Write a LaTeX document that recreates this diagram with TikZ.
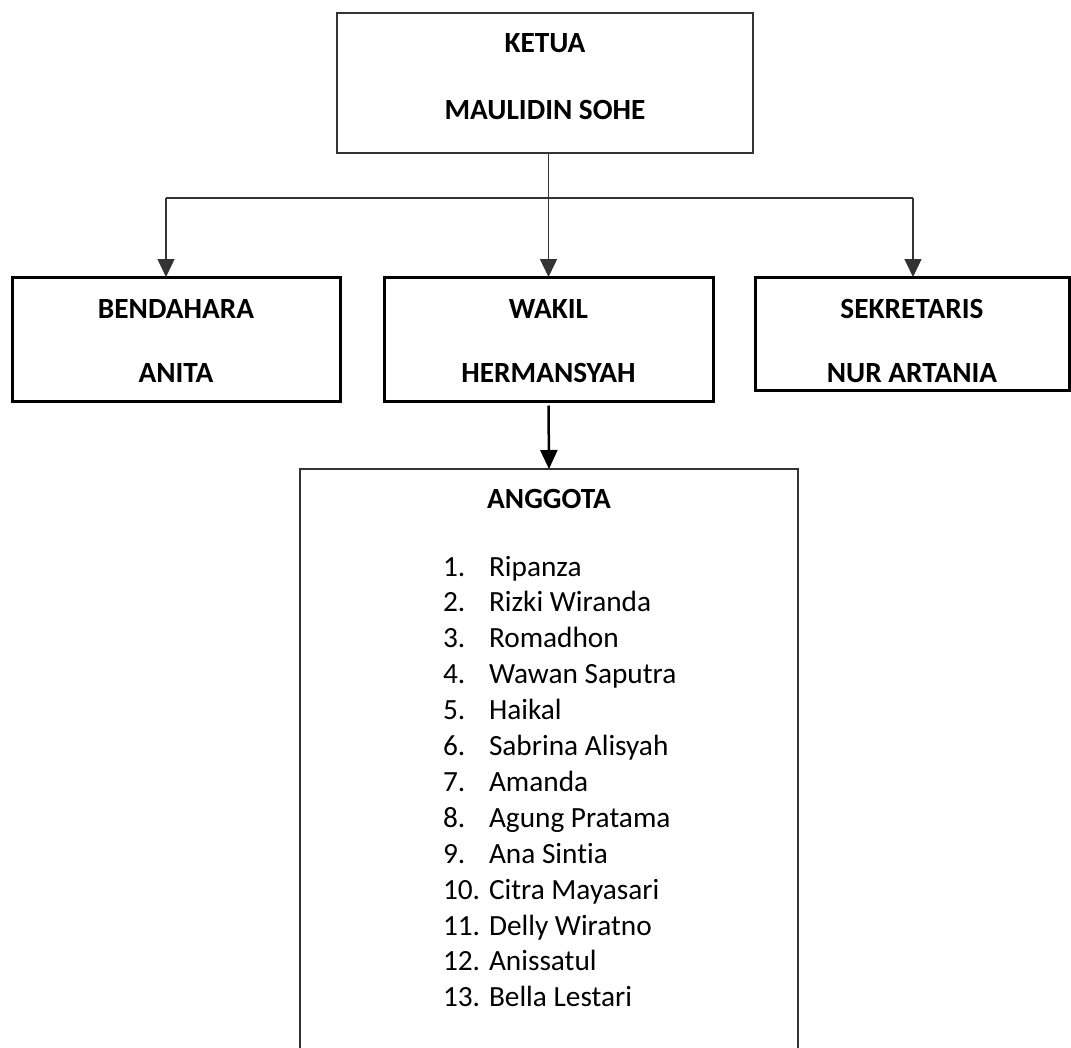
\documentclass[tikz,border=0pt]{standalone}
\usepackage{fontspec}
\setmainfont{Carlito}[Ligatures=NoCommon]
\usetikzlibrary{arrows.meta}
\begin{document}
\begin{tikzpicture}[x=1pt,y=-1pt,
  every node/.style={inner sep=0pt,outer sep=0pt},
  topbox/.style={draw=black!80,line width=2pt,align=center,
    font=\fontsize{29.3}{67}\selectfont\bfseries},
  rolebox/.style={draw=black,line width=3pt,align=center,
    font=\fontsize{29.3}{64}\selectfont\bfseries},
  memberbox/.style={draw=black!80,line width=2pt},
  heading/.style={font=\fontsize{29.3}{35}\selectfont\bfseries,anchor=base},
  item/.style={font=\fontsize{29.3}{35}\selectfont,anchor=base west},
  conn/.style={draw=black!80,line width=1.5pt},
  arr/.style={conn,-{Triangle[width=17pt,length=18pt]}},
  arrthick/.style={draw=black,line width=2.5pt,-{Triangle[width=17pt,length=19pt]}}
]
\useasboundingbox (0,0) rectangle (1071,1047);
\clip (0,0) rectangle (1071,1047);

% chairman
\node[topbox,minimum width=416pt,minimum height=140pt] (ketua) at (545,83)
  {KETUA\\MAULIDIN SOHE\rule[-14pt]{0pt}{14pt}};

% second level
\node[rolebox,minimum width=328pt,minimum height=124pt] (bend) at (176,339)
  {\rule{0pt}{22.5pt}BENDAHARA\\ANITA};
\node[rolebox,minimum width=329pt,minimum height=124pt] (wakil) at (548.5,339)
  {\rule{0pt}{22.5pt}WAKIL\\HERMANSYAH};
\node[rolebox,minimum width=314pt,minimum height=113pt] (sek) at (912,333.5)
  {\rule{0pt}{33.5pt}SEKRETARIS\\NUR ARTANIA};

% members (box runs past the bottom edge)
\node[memberbox,minimum width=498pt,minimum height=631pt] (anggota) at (549,784.5) {};
\node[heading] (anggotaT) at (549,508) {ANGGOTA};
\foreach \n/\name [count=\i from 0] in {
  1/Ripanza, 2/Rizki Wiranda, 3/Romadhon, 4/Wawan Saputra, 5/Haikal,
  6/Sabrina Alisyah, 7/Amanda, 8/Agung Pratama, 9/Ana Sintia,
  10/Citra Mayasari, 11/Delly Wiratno, 12/Anissatul, 13/Bella Lestari}{
  \node[item] (num\n) at (443,576+35.9*\i) {\n.};
  \node[item] (mem\n) at (489,576+35.9*\i) {\name};
}

% connectors
\coordinate (jL) at (166,198);
\coordinate (jR) at (913,198);
\draw[conn] (jL) -- (jR);
\draw[arr] (jL) -- (jL |- bend.north);
\draw[arr] (jR) -- (jR |- sek.north);
\draw[arr] (ketua.south -| wakil.north) -- (wakil.north);
\draw[arrthick,shorten <=4.5pt] (wakil.south) -- (anggota.north);
\end{tikzpicture}
\end{document}
